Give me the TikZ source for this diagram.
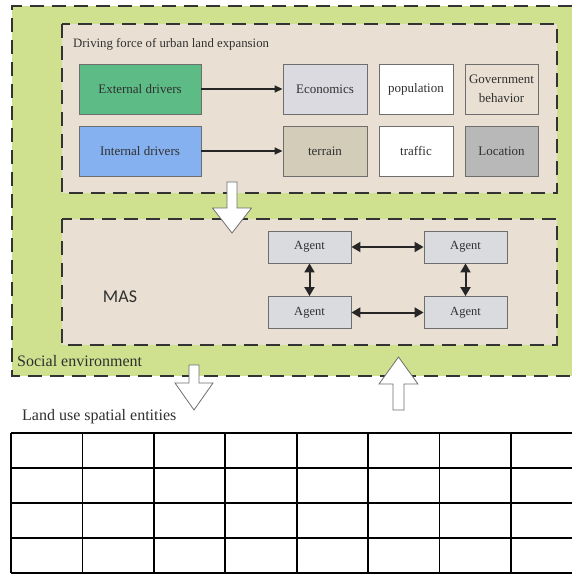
\documentclass[tikz,border=0pt]{standalone}
\usepackage{fontspec}
\setmainfont{Liberation Serif}
\newfontfamily\masfont{Carlito}
\usetikzlibrary{arrows.meta}
\definecolor{envgreen}{HTML}{CFE18F}
\definecolor{beige}{HTML}{E9E0D3}
\definecolor{extgreen}{HTML}{5DBB86}
\definecolor{intblue}{HTML}{86B1F0}
\definecolor{lightgray}{HTML}{DADAE0}
\definecolor{terraincol}{HTML}{D2CCB8}
\definecolor{loccol}{HTML}{B8B8B8}
\definecolor{agentcol}{HTML}{DADBDF}
\definecolor{bordergray}{HTML}{6E6E6E}
\definecolor{dashcol}{HTML}{333333}
\definecolor{textcol}{HTML}{303030}
\begin{document}
\begin{tikzpicture}[x=1pt,y=-1pt,
  dashline/.style={draw=dashcol,line width=2pt,dash pattern=on 14pt off 8pt},
  factor/.style={draw=bordergray,line width=0.9pt,minimum height=50pt,inner sep=1pt,
    align=center,text=textcol,font=\fontsize{13}{19}\selectfont},
  agent/.style={draw=bordergray,line width=0.9pt,fill=agentcol,minimum width=83pt,
    minimum height=32pt,inner sep=0pt,text=textcol,font=\fontsize{12.5}{15}\selectfont},
  link/.style={line width=1.6pt,draw=black!85,-{Triangle[length=8pt,width=7pt]}},
  dlink/.style={line width=2pt,draw=black!85,{Triangle[length=9pt,width=10pt]}-{Triangle[length=9pt,width=10pt]}},
  blockarrow/.style={fill=white,draw=bordergray,line width=0.8pt,line join=miter},
  label/.style={anchor=west,inner sep=0pt,text=textcol}]
\useasboundingbox (0,0) rectangle (572,575);
% social environment
\fill[envgreen] (12,6) rectangle (572,376);
\draw[dashline] (572,6) -- (12,6) -- (12,376) -- (572,376);
% driving force box
\draw[dashline,fill=beige] (62,24) rectangle (557,193);
\node[label,font=\fontsize{12.8}{15}\selectfont] (title) at (73,44) {Driving force of urban land expansion};
\node[factor,fill=extgreen,minimum width=122pt] (ext) at (140,89) {External drivers};
\node[factor,fill=intblue,minimum width=122pt] (int) at (140,151) {Internal drivers};
\node[factor,fill=lightgray,minimum width=84pt] (eco) at (325,89) {Economics};
\node[factor,fill=white,minimum width=74pt] (pop) at (416,89) {population};
\node[factor,fill=beige,minimum width=73pt] (gov) at (501.5,89) {Government\\behavior};
\node[factor,fill=terraincol,minimum width=84pt] (ter) at (325,151) {terrain};
\node[factor,fill=white,minimum width=74pt] (tra) at (416,151) {traffic};
\node[factor,fill=loccol,minimum width=73pt] (loc) at (501.5,151) {Location};
\draw[link] (ext) -- (eco);
\draw[link] (int) -- (ter);
% MAS box
\draw[dashline,fill=beige] (62,219) rectangle (557,345);
\node[text=textcol,font=\masfont\fontsize{18}{21}\selectfont] (mas) at (120,297) {MAS};
\node[agent] (a1) at (309.5,247) {Agent};
\node[agent] (a2) at (465.5,247) {Agent};
\node[agent] (a3) at (309.5,312.5) {Agent};
\node[agent] (a4) at (465.5,312.5) {Agent};
\draw[dlink] (a1) -- (a2);
\draw[dlink] (a3) -- (a4);
\draw[dlink] (a1) -- (a3);
\draw[dlink] (a2) -- (a4);
\node[label,font=\fontsize{16}{19}\selectfont] (soc) at (17,361) {Social environment};
% block arrows
\draw[blockarrow] (227,182) -- (237,182) -- (237,208) -- (251.5,208) -- (232,233) -- (212.5,208) -- (227,208) -- cycle;
\draw[blockarrow] (189,365) -- (199,365) -- (199,383) -- (213,383) -- (194,410) -- (175,383) -- (189,383) -- cycle;
\draw[blockarrow] (393,410) -- (404,410) -- (404,384) -- (418,384) -- (398.5,357) -- (379,384) -- (393,384) -- cycle;
% land use
\node[label,font=\fontsize{16}{19}\selectfont] (land) at (22,417) {Land use spatial entities};
\begin{scope}[line width=1.6pt,draw=black]
\foreach \y in {433,468,503,538,573} \draw (11,\y) -- (572,\y);
\foreach \i in {0,...,7} \draw ({11+71.43*\i},433) -- ({11+71.43*\i},573);
\end{scope}
\end{tikzpicture}
\end{document}
